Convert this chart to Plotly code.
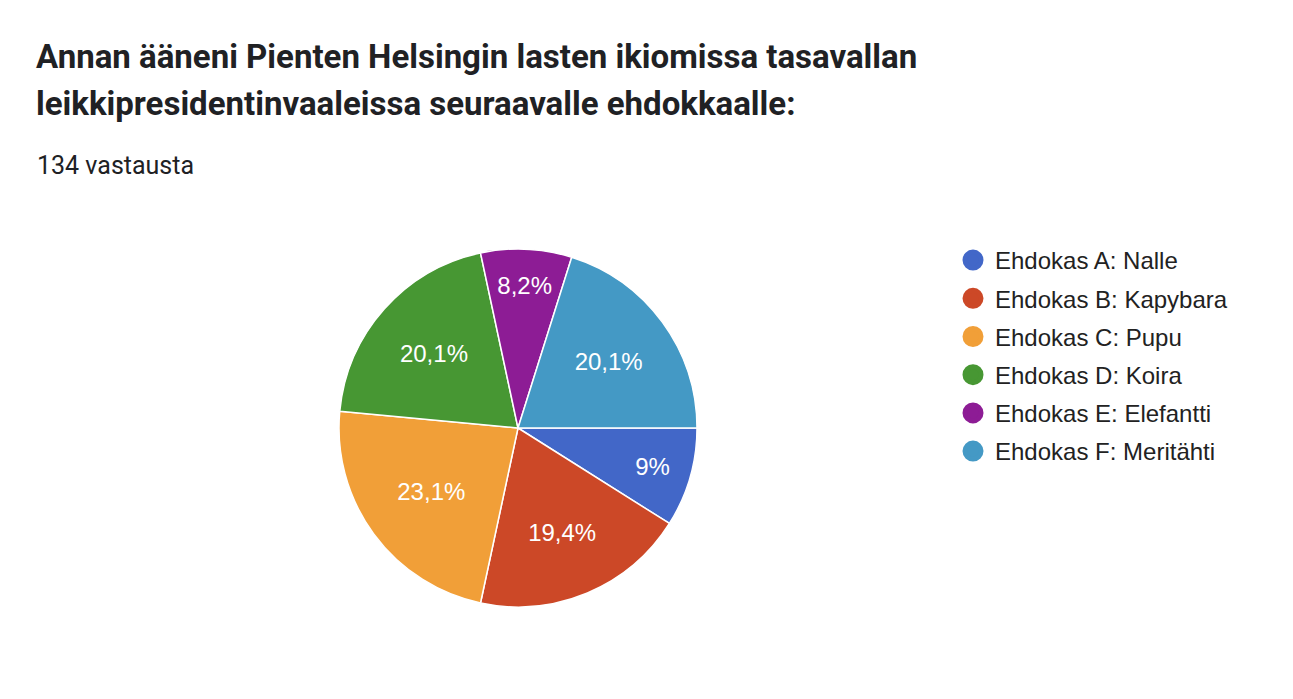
import plotly.graph_objects as go

# ---- data ----
categories = ["Ehdokas A: Nalle", "Ehdokas B: Kapybara", "Ehdokas C: Pupu",
              "Ehdokas D: Koira", "Ehdokas E: Elefantti", "Ehdokas F: Meritähti"]
counts = [12, 26, 31, 27, 11, 27]
colors = ["#4267c8", "#cc4827", "#f19f38", "#479733", "#8d1c95", "#4499c5"]
title_lines = ["Annan ääneni Pienten Helsingin lasten ikiomissa tasavallan",
               "leikkipresidentinvaaleissa seuraavalle ehdokkaalle:"]
subtitle = "134 vastausta"

W, H = 1293, 699
total = sum(counts)


def pct_label(v):
    s = f"{v / total * 100:.1f}"
    if s.endswith(".0"):
        s = s[:-2]
    return s.replace(".", ",") + "%"


labels = [pct_label(v) for v in counts]

# pie geometry (pixels)
cx, cy, R = 518, 428, 179

fig = go.Figure()
fig.add_trace(go.Pie(
    labels=categories, values=counts, text=labels,
    textinfo="text", textposition="inside", insidetextorientation="horizontal",
    textfont=dict(family="Liberation Sans, Arial", size=24, color="white"),
    marker=dict(colors=colors, line=dict(color="white", width=1.5)),
    sort=False, direction="clockwise", rotation=90,
    showlegend=False,
    domain=dict(x=[(cx - R) / W, (cx + R) / W], y=[1 - (cy + R) / H, 1 - (cy - R) / H]),
))

for i, (name, col) in enumerate(zip(categories, colors)):
    fig.add_trace(go.Scatter(
        x=[None], y=[None], mode="markers", name=name,
        legendgroup=f"g{i}",
        marker=dict(symbol="circle", size=16, color=col, line=dict(color=col, width=5)),
    ))

annotations = [
    dict(text=f"<b>{title_lines[0]}</b>", x=34 / W, y=1 - 57 / H, xref="paper", yref="paper",
         xanchor="left", yanchor="middle", showarrow=False,
         font=dict(family="Roboto", size=33, color="#202124")),
    dict(text=f"<b>{title_lines[1]}</b>", x=34 / W, y=1 - 103 / H, xref="paper", yref="paper",
         xanchor="left", yanchor="middle", showarrow=False,
         font=dict(family="Roboto", size=33, color="#202124")),
    dict(text=subtitle, x=35 / W, y=1 - 165 / H, xref="paper", yref="paper",
         xanchor="left", yanchor="middle", showarrow=False,
         font=dict(family="Roboto", size=25, color="#202124")),
]

fig.update_layout(
    width=W, height=H,
    margin=dict(l=0, r=0, t=0, b=0),
    paper_bgcolor="white", plot_bgcolor="white",
    xaxis=dict(visible=False), yaxis=dict(visible=False),
    annotations=annotations,
    legend=dict(x=951 / W, y=1 - 238 / H, xanchor="left", yanchor="top",
                font=dict(family="Liberation Sans, Arial", size=24, color="#222222"),
                tracegroupgap=4, itemwidth=34, bgcolor="rgba(0,0,0,0)"),
    hovermode=False,
)

fig.write_html("out.html", config={"displayModeBar": False},
               post_script="document.body.style.margin='0';")
